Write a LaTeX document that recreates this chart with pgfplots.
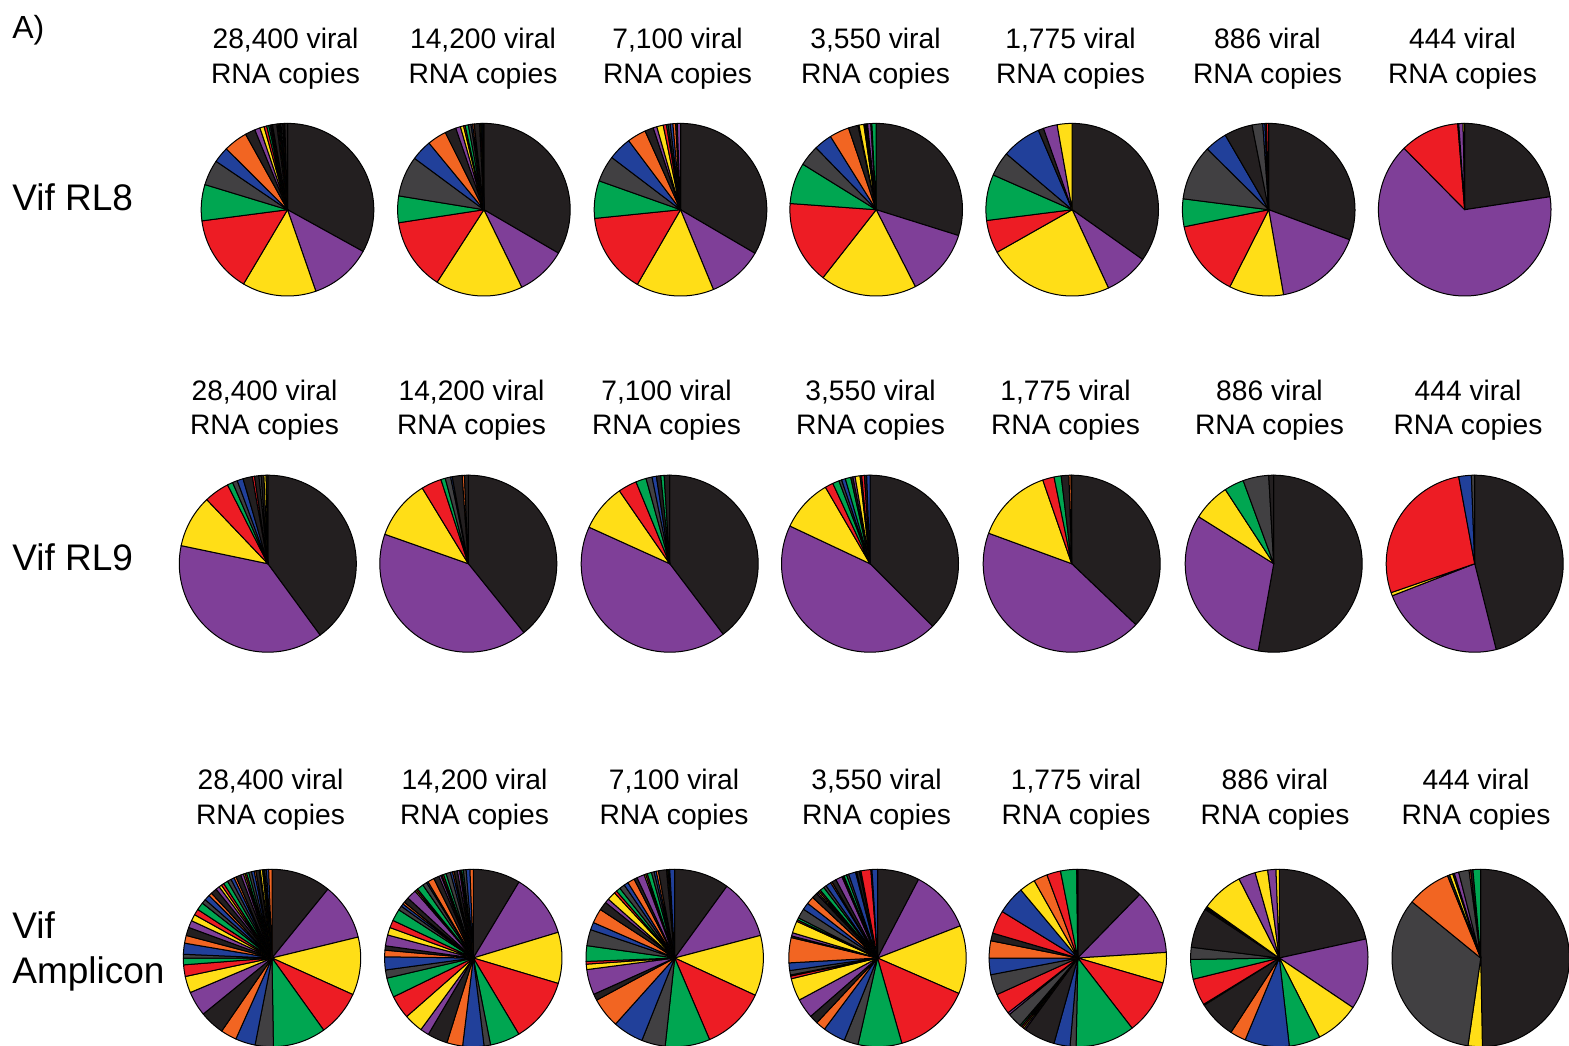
\documentclass[border=0pt]{standalone}
\usepackage{pgfplots}
\pgfplotsset{compat=1.18}
\usepackage{fontspec}
\setmainfont{Liberation Sans}

% variant colours, in the order they are assigned
\definecolor{cK}{HTML}{231F20}
\definecolor{cP}{HTML}{7F3F98}
\definecolor{cY}{HTML}{FFDE17}
\definecolor{cR}{HTML}{ED1C24}
\definecolor{cG}{HTML}{00A651}
\definecolor{cD}{HTML}{414042}
\definecolor{cB}{HTML}{21409A}
\definecolor{cO}{HTML}{F26522}

% one wedge of the unit circle, between two angles (degrees)
\newcommand\pieslice[4]{%
  \addplot[draw=black, line width=0.5pt, line join=round, fill=c#4,
           domain=#1:#2, samples=#3, variable=\ang]
    ({cos(\ang)},{sin(\ang)}) -- (axis cs:0,0) -- cycle;}

% share/colour pairs, clockwise from twelve o'clock
\newcommand\pie[1]{%
  \gdef\pietotal{0}%
  \foreach \pv/\pc in {#1}{\pgfmathsetmacro\pietmp{\pietotal+\pv}\global\let\pietotal\pietmp}%
  \gdef\pieacc{0}%
  \foreach \pv/\pc in {#1}{%
    \pgfmathsetmacro\pieend{\pieacc+\pv}%
    \pgfmathsetmacro\angA{90-\pieend/\pietotal*360}%
    \pgfmathsetmacro\angB{90-\pieacc/\pietotal*360}%
    \pgfmathtruncatemacro\ns{max(2,ceil((\angB-\angA)/2)+1)}%
    \edef\tmp{\noexpand\pieslice{\angA}{\angB}{\ns}{\pc}}\tmp
    \global\let\pieacc\pieend
  }}

% centre x, centre y (px from top left), radius (px), shares
\newcommand\drawpie[4]{%
  \begin{axis}[at={(#1*0.5pt,-#2*0.5pt)}, anchor=center, scale only axis,
      width=#3pt, height=#3pt, xmin=-1, xmax=1, ymin=-1, ymax=1,
      hide axis, clip=false]
    \pie{#4}
  \end{axis}}

\newcommand\copies[4]{% x, baseline of first line, baseline of second line, count
  \node[anchor=base, inner sep=0pt, font=\fontsize{14.1}{17}\selectfont] at (#1*0.5pt,-#2*0.5pt) {#4 viral};
  \node[anchor=base, inner sep=0pt, font=\fontsize{14.1}{17}\selectfont] at (#1*0.5pt,-#3*0.5pt) {RNA copies};}

\newcommand\rowlabel[3]{% x, baseline, text
  \node[anchor=base west, inner sep=0pt, font=\fontsize{18.5}{22}\selectfont] at (#1*0.5pt,-#2*0.5pt) {#3};}

\begin{document}
\begin{tikzpicture}
\path[use as bounding box] (0,0) rectangle (784.5pt,-522.5pt);

\node[anchor=base west, inner sep=0pt, font=\fontsize{16}{19}\selectfont] at (12*0.5pt,-38*0.5pt) {A)};

% ---------------- Vif RL8 ----------------
\rowlabel{12}{210}{Vif RL8}
\copies{285.5}{48}{83}{28,400}
\copies{483}{48}{83}{14,200}
\copies{677.5}{48}{83}{7,100}
\copies{875.5}{48}{83}{3,550}
\copies{1070.5}{48}{83}{1,775}
\copies{1267.5}{48}{83}{886}
\copies{1462.5}{48}{83}{444}

\drawpie{287.5}{209.7}{86.3}{33.2/K,11.7/P,13.9/Y,14.5/R,6.8/G,4.8/D,3.0/B,4.5/O,%
1.9/K,1.0/P,0.8/Y,0.5/R,0.4/G,0.3/D,0.2/B,0.2/O,%
0.8/K,0.2/P,0.2/Y,0.2/R,0.2/G,0.3/D,0.2/B,0.2/O,0.5/K}
\drawpie{483.9}{209.7}{86.3}{33.5/K,9.4/P,16.4/Y,13.5/R,5.0/G,7.6/D,3.9/B,3.6/O,%
2.1/K,0.9/P,0.6/Y,0.3/R,0.6/G,0.5/D,0.3/B,0.3/O,%
1.0/K,0.2/P,0.1/Y,0.1/R,0.1/G,0.1/D,0.2/B}
\drawpie{680.5}{209.7}{86.3}{33.3/K,10.3/P,14.5/Y,15.0/R,7.0/G,4.9/D,4.4/B,3.5/O,%
1.6/K,0.7/P,1.2/Y,0.6/R,0.3/G,0.4/D,0.5/B,0.5/O,0.3/K,0.6/P}
\drawpie{876.2}{209.7}{86.3}{29.9/K,12.7/P,18.1/Y,15.6/R,7.7/G,3.9/D,3.4/B,3.7/O,%
1.8/K,0.2/P,0.9/Y,0.1/R,0.1/G,0.1/D,0.1/B,0.1/O,0.2/K,0.6/P,0.1/Y,0.1/R,0.8/G}
\drawpie{1072.2}{209.7}{86.3}{34.8/K,8.3/P,23.7/Y,6.2/R,8.6/G,4.6/D,7.4/B,1.0/K,2.6/P,2.8/Y}
\drawpie{1268.7}{209.7}{86.3}{30.7/K,16.6/P,10.2/Y,14.4/R,5.2/G,10.4/D,4.2/B,5.3/K,2.0/D,0.4/B,0.3/K,0.4/R}
\drawpie{1464.7}{209.7}{86.3}{22.6/K,65.0/P,11.1/R,0.2/K,0.8/P,0.3/Y}

% ---------------- Vif RL9 ----------------
\rowlabel{12}{570}{Vif RL9}
\copies{264.5}{400}{434}{28,400}
\copies{471.5}{400}{434}{14,200}
\copies{666.5}{400}{434}{7,100}
\copies{870.5}{400}{434}{3,550}
\copies{1065.5}{400}{434}{1,775}
\copies{1269.5}{400}{434}{886}
\copies{1468}{400}{434}{444}

\drawpie{267.8}{563.7}{88.5}{39.9/K,38.3/P,9.6/Y,4.6/R,1.0/G,0.9/D,1.1/B,1.7/K,0.4/R,0.8/K,0.4/D,0.5/K,0.4/Y,0.3/K}
\drawpie{468.3}{563.7}{88.5}{39.2/K,41.2/P,10.9/Y,3.7/R,0.8/G,1.0/D,0.3/B,1.8/K,0.4/O,0.7/K}
\drawpie{669.7}{563.7}{88.5}{39.6/K,42.0/P,8.6/Y,3.4/R,1.9/G,1.1/D,0.8/B,0.8/K,0.6/G,1.0/K}
\drawpie{870}{563.7}{88.5}{37.5/K,44.5/P,9.6/Y,1.5/R,1.2/G,0.5/D,0.7/B,1.0/G,0.4/K,0.4/P,0.9/Y,0.3/K,0.5/R,0.4/K,0.6/B}
\drawpie{1071.7}{563.7}{88.5}{37.1/K,43.5/P,14.1/Y,2.1/R,1.3/G,1.4/K,0.4/O,0.1/K}
\drawpie{1273.7}{563.7}{88.5}{52.8/K,31.1/P,6.9/Y,3.6/G,4.7/D,0.9/K}
\drawpie{1474.7}{563.7}{88.5}{46.1/K,23.0/P,0.6/Y,27.4/R,2.3/B,0.6/D}

% ---------------- Vif Amplicon ----------------
\rowlabel{12}{938}{Vif}
\rowlabel{12}{983}{Amplicon}
\copies{270.5}{789}{824}{28,400}
\copies{474.5}{789}{824}{14,200}
\copies{674}{789}{824}{7,100}
\copies{876.5}{789}{824}{3,550}
\copies{1076}{789}{824}{1,775}
\copies{1275}{789}{824}{886}
\copies{1476}{789}{824}{444}

\drawpie{272}{958}{88.7}{10.8/K,10.3/P,10.5/Y,8.3/R,9.6/G,3.3/D,3.6/B,2.9/O,%
4.5/K,4.5/P,3.0/Y,2.1/R,1.2/G,0.7/D,2.0/B,1.4/O,%
1.5/K,1.3/P,1.2/Y,1.1/R,1.4/G,0.8/D,1.0/B,0.6/O,%
1.1/K,0.7/P,0.5/Y,0.5/R,0.8/G,0.7/D,0.6/B,0.4/O,%
0.9/K,0.5/P,0.3/Y,0.3/R,0.4/G,0.5/D,0.5/B,0.3/O,%
0.6/K,0.2/P,0.4/Y,0.2/R,0.2/G,0.3/D,0.4/B,0.6/O}
\drawpie{473.3}{958}{88.7}{8.7/K,11.8/P,9.4/Y,11.9/R,5.5/G,1.2/D,3.9/B,2.9/O,%
3.7/K,1.6/P,3.5/Y,4.3/R,3.6/G,1.5/D,2.4/B,1.2/O,%
0.8/K,2.0/P,1.4/Y,1.4/R,2.2/G,0.8/D,0.5/B,0.4/O,%
1.0/K,1.8/P,0.3/Y,0.3/R,1.2/G,0.8/D,0.3/B,1.2/O,%
1.0/K,0.4/P,0.2/Y,0.3/R,0.5/G,0.8/D,0.4/B,0.3/O,%
0.6/K,0.4/P,0.2/Y,0.2/R,0.3/G,0.5/D,0.7/B,0.6/O}
\drawpie{674.7}{958}{88.7}{10.2/K,11.1/P,11.2/Y,11.9/R,8.3/G,4.4/D,5.7/B,5.6/O,%
1.2/K,4.7/P,1.0/Y,0.5/R,2.9/G,3.0/D,1.4/B,2.7/O,%
1.6/K,0.8/P,1.6/Y,0.5/R,0.8/G,1.0/D,0.8/B,1.3/O,%
0.6/K,1.4/P,0.3/Y,0.3/R,0.8/G,0.5/D,0.4/B,0.4/O,%
1.5/K,0.2/P,0.1/Y,0.1/R,0.1/G,0.1/D,0.9/B}
\drawpie{877.5}{958}{88.7}{7.7/K,11.5/P,12.5/Y,14.1/R,8.0/G,2.6/D,4.1/B,1.8/O,%
1.6/K,3.6/P,4.1/Y,0.5/R,0.2/G,0.8/D,1.4/B,4.6/O,%
0.3/K,0.6/P,2.2/Y,0.3/R,0.4/G,1.8/D,1.3/B,1.4/O,%
1.0/K,0.3/P,0.3/Y,0.3/R,0.8/G,0.5/D,1.0/B,0.3/O,%
0.8/K,1.2/P,0.2/Y,0.2/R,0.5/G,0.4/D,1.3/B,0.2/O,%
0.5/K,0.2/P,0.1/Y,1.8/R,0.1/G,0.1/D,1.0/B}
\drawpie{1077.8}{958}{88.7}{12.2/K,11.6/P,5.5/Y,9.9/R,10.7/G,1.1/D,2.9/B,%
5.7/K,0.3/P,0.3/Y,0.3/R,0.3/G,2.7/D,0.4/P,3.8/R,3.7/D,3.0/B,3.1/O,%
1.4/K,4.2/R,5.1/B,2.9/Y,2.5/O,2.5/R,2.9/G,0.2/K}
\drawpie{1279.3}{958}{88.7}{21.6/K,12.9/P,8.1/Y,5.7/G,8.1/B,2.9/O,6.9/K,0.2/Y,4.9/R,3.6/G,2.2/D,%
7.3/K,0.2/P,0.2/Y,0.2/P,7.7/Y,3.1/P,2.3/Y,1.5/P,0.6/Y}
\drawpie{1480.7}{958}{88.7}{49.7/K,2.6/Y,33.6/D,8.0/O,0.4/K,0.6/Y,0.3/K,0.8/P,1.9/D,0.3/O,0.4/K,1.4/G}

\end{tikzpicture}
\end{document}
